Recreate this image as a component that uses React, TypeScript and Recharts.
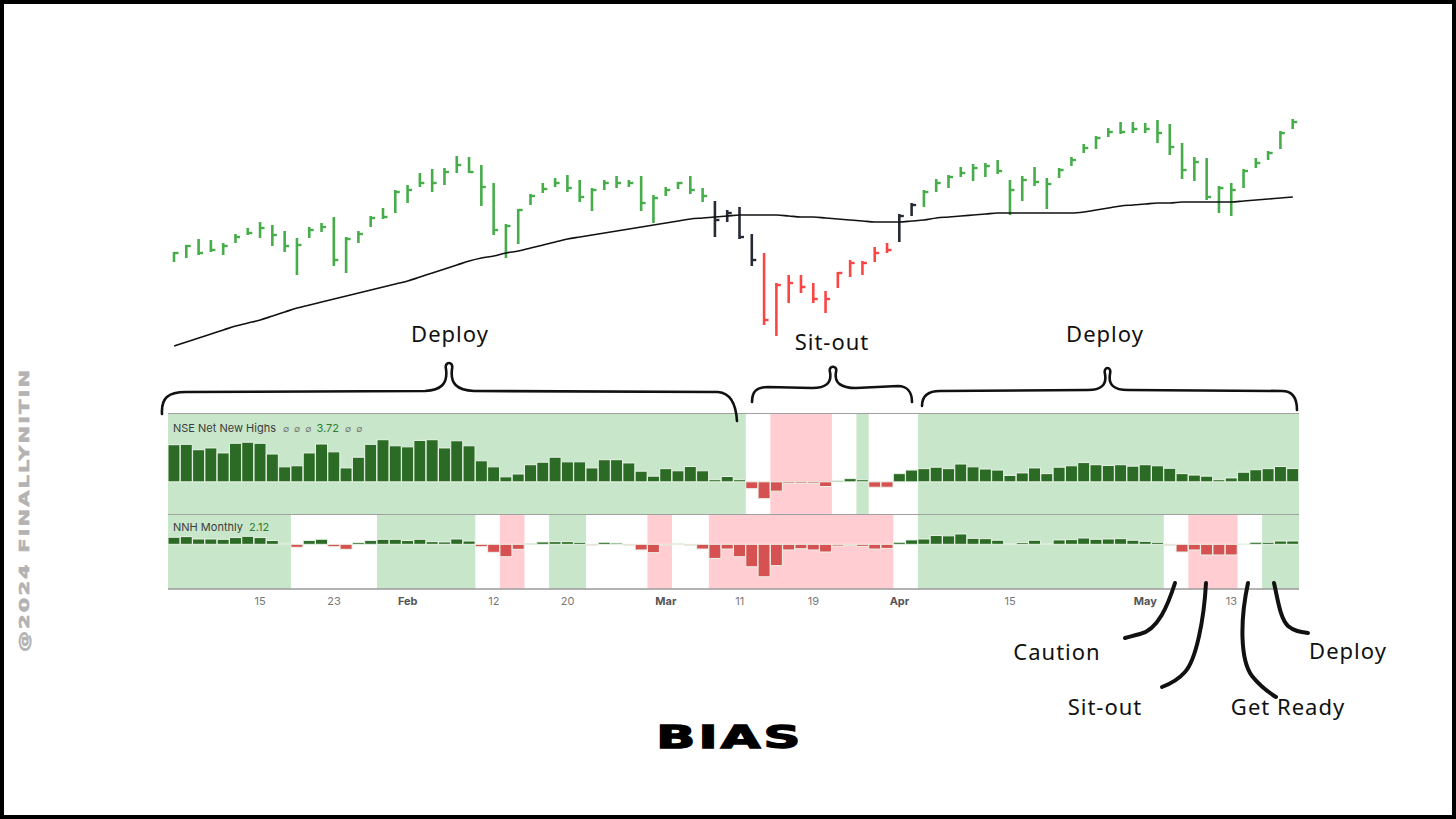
import React from "react";
import {
  Bar,
  BarChart,
  Cell,
  ComposedChart,
  Line,
  ReferenceArea,
  XAxis,
  YAxis,
} from "recharts";

// trading days (NSE, incl. Saturday special sessions)
const days = [
  "2024-01-04", "2024-01-05", "2024-01-08", "2024-01-09", "2024-01-10", "2024-01-11", "2024-01-12",
  "2024-01-15", "2024-01-16", "2024-01-17", "2024-01-18", "2024-01-19", "2024-01-20", "2024-01-23",
  "2024-01-24", "2024-01-25", "2024-01-29", "2024-01-30", "2024-01-31",
  "2024-02-01", "2024-02-02", "2024-02-05", "2024-02-06", "2024-02-07", "2024-02-08", "2024-02-09",
  "2024-02-12", "2024-02-13", "2024-02-14", "2024-02-15", "2024-02-16", "2024-02-19", "2024-02-20",
  "2024-02-21", "2024-02-22", "2024-02-23", "2024-02-26", "2024-02-27", "2024-02-28", "2024-02-29",
  "2024-03-01", "2024-03-02", "2024-03-04", "2024-03-05", "2024-03-06", "2024-03-07", "2024-03-11",
  "2024-03-12", "2024-03-13", "2024-03-14", "2024-03-15", "2024-03-18", "2024-03-19", "2024-03-20",
  "2024-03-21", "2024-03-22", "2024-03-26", "2024-03-27", "2024-03-28",
  "2024-04-01", "2024-04-02", "2024-04-03", "2024-04-04", "2024-04-05", "2024-04-08", "2024-04-09",
  "2024-04-10", "2024-04-12", "2024-04-15", "2024-04-16", "2024-04-18", "2024-04-19", "2024-04-22",
  "2024-04-23", "2024-04-24", "2024-04-25", "2024-04-26", "2024-04-29", "2024-04-30",
  "2024-05-02", "2024-05-03", "2024-05-06", "2024-05-07", "2024-05-08", "2024-05-09", "2024-05-10",
  "2024-05-13", "2024-05-14", "2024-05-15", "2024-05-16", "2024-05-17", "2024-05-18",
];

const tickDays = [
  "2024-01-15", "2024-01-23", "2024-02-01", "2024-02-12", "2024-02-20", "2024-03-01",
  "2024-03-11", "2024-03-19", "2024-04-01", "2024-04-15", "2024-05-02", "2024-05-13",
];
const tickTexts = ["15", "23", "Feb", "12", "20", "Mar", "11", "19", "Apr", "15", "May", "13"];
const monthNames = ["Feb", "Mar", "Apr", "May"];

// price bars (high / low / close), index units
const highs = [
  108, 115, 121, 120, 117, 126, 132, 138, 135, 129,
  122, 133, 137, 143, 123, 129, 144, 152, 170, 175,
  187, 191, 192, 204, 203, 195, 177, 136, 151, 166,
  177, 182, 185, 180, 172, 180, 184, 180, 184, 165,
  173, 178, 184, 172, 159, 150, 153, 126, 107, 77,
  85, 85, 77, 69, 88, 100, 99, 113, 117, 146,
  157, 170, 181, 185, 193, 196, 197, 200, 180, 184,
  193, 182, 192, 203, 216, 224, 232, 238, 238, 237,
  240, 236, 217, 203, 202, 174, 177, 191, 202, 209,
  229, 241,
];
const lows = [
  98, 102, 105, 108, 105, 117, 125, 122, 114, 108,
  85, 122, 128, 94, 87, 117, 133, 141, 147, 157,
  173, 168, 175, 187, 187, 154, 125, 102, 116, 155,
  167, 173, 168, 158, 149, 170, 172, 173, 149, 137,
  164, 171, 166, 158, 123, 138, 121, 94, 35, 24,
  57, 67, 57, 47, 72, 83, 85, 98, 107, 118,
  144, 153, 168, 172, 183, 179, 183, 186, 145, 159,
  174, 151, 182, 194, 207, 211, 223, 226, 227, 227,
  217, 205, 181, 179, 160, 147, 144, 172, 192, 200,
  211, 231,
];
const closes = [
  107, 114, 107, 110, 114, 123, 127, 132, 125, 114,
  115, 130, 133, 100, 121, 126, 142, 143, 168, 170,
  177, 177, 188, 195, 188, 173, 130, 134, 150, 164,
  171, 177, 172, 163, 170, 177, 177, 177, 157, 162,
  170, 177, 170, 164, 140, 147, 123, 100, 40, 75,
  77, 73, 61, 61, 87, 97, 97, 107, 110, 144,
  155, 168, 177, 183, 187, 192, 194, 189, 170, 180,
  178, 176, 190, 200, 212, 222, 228, 228, 231, 231,
  227, 213, 190, 198, 163, 172, 170, 189, 197, 207,
  227, 238,
];
const movingAvg = [
  14, 18, 22, 26, 30, 34, 37, 40, 44, 48,
  52, 55, 58, 61, 64, 67, 70, 73, 76, 79,
  83, 87, 91, 95, 99, 102, 104, 107, 109, 112,
  115, 118, 121, 123, 125, 127, 129, 131, 133, 135,
  137, 139, 141, 142, 143, 144, 145, 145, 145, 145,
  144, 143, 143, 142, 141, 140, 139, 138, 138, 138,
  139, 140, 142, 143, 144, 145, 146, 147, 147, 147,
  147, 147, 147, 147, 148, 150, 152, 154, 155, 156,
  157, 157, 158, 158, 158, 158, 158, 159, 160, 161,
  162, 163,
];
// g = above average, k = at average, r = below average
const regime =
  "gggggggggggggggggggggggggggggggggggggggggggg" + "kkkk" + "rrrrrrrrrrr" + "kk" + "ggggggggggggggggggggggggggggggg";

const nnh = [
  10.4, 10.5, 9.0, 9.5, 8.1, 10.8, 11.1, 10.8, 7.8, 4.2,
  4.5, 8.1, 10.6, 8.4, 3.9, 6.9, 10.5, 11.8, 10.1, 9.8,
  11.6, 11.8, 9.5, 11.5, 10.1, 5.9, 4.2, 1.4, 2.2, 4.8,
  5.5, 6.9, 5.6, 5.6, 3.9, 6.2, 6.2, 5.3, 3.0, 1.6,
  3.7, 3.1, 4.3, 3.1, 0.6, 1.5, 0.6, -1.9, -4.7, -2.6,
  -0.4, -0.4, -0.4, -1.3, 0.3, 0.9, 0.6, -1.5, -1.5, 2.3,
  3.3, 3.7, 4.1, 3.7, 5.0, 4.2, 3.6, 3.3, 1.8, 2.5,
  3.9, 2.3, 4.1, 4.5, 5.4, 4.8, 4.6, 4.8, 4.4, 4.8,
  4.5, 3.8, 2.3, 1.9, 1.6, 0.6, 1.1, 2.7, 3.4, 3.7,
  4.3, 3.72,
];
const nnhMonthly = [
  4.5, 4.9, 3.4, 3.4, 3.2, 4.3, 5.1, 4.3, 2.4, 0.6,
  -1.9, 2.4, 3.2, -1.5, -3.2, 1.1, 2.4, 3.2, 3.2, 2.4,
  3.2, 1.7, 1.5, 3.4, 2.1, -1.5, -5.1, -7.9, -3.2, 0.6,
  1.5, 1.7, 1.7, 1.3, -0.6, 1.3, 0.8, -0.6, -3.6, -5.3,
  -0.6, 0.4, -0.6, -3.0, -9.0, -3.0, -7.9, -14.3, -20.7, -13.6,
  -3.6, -2.8, -3.6, -4.9, -1.1, -0.6, -1.3, -3.0, -2.6, 1.3,
  2.8, 3.4, 5.6, 5.4, 6.6, 3.8, 3.6, 2.6, 0.4, 1.1,
  2.6, 0.4, 2.8, 3.0, 4.0, 3.2, 3.4, 3.6, 2.6, 1.9,
  1.3, -0.6, -4.9, -3.6, -6.8, -6.8, -6.8, 0.2, 1.3, 1.3,
  2.1, 2.12,
];

const nnhZones = [
  { from: "2024-01-04", to: "2024-03-11", tone: "up" },
  { from: "2024-03-14", to: "2024-03-20", tone: "down" },
  { from: "2024-03-26", to: "2024-03-26", tone: "up" },
  { from: "2024-04-03", to: "2024-05-18", tone: "up" },
];
const monthlyZones = [
  { from: "2024-01-04", to: "2024-01-17", tone: "up" },
  { from: "2024-01-30", to: "2024-02-08", tone: "up" },
  { from: "2024-02-13", to: "2024-02-14", tone: "down" },
  { from: "2024-02-19", to: "2024-02-21", tone: "up" },
  { from: "2024-02-29", to: "2024-03-01", tone: "down" },
  { from: "2024-03-06", to: "2024-03-28", tone: "down" },
  { from: "2024-04-03", to: "2024-05-03", tone: "up" },
  { from: "2024-05-08", to: "2024-05-13", tone: "down" },
  { from: "2024-05-16", to: "2024-05-18", tone: "up" },
];

const regimeColors: Record<string, string> = { g: "#46ad4a", k: "#262a35", r: "#fb4646" };
const zoneColors: Record<string, string> = { up: "#c8e6c9", down: "#ffcdd2" };
const BAR_UP = "#2c6b25";
const BAR_DOWN = "#d65252";

const data = days.map((day, i) => ({
  day,
  hl: [lows[i], highs[i]],
  high: highs[i],
  low: lows[i],
  close: closes[i],
  ma: movingAvg[i],
  regime: regime[i],
  nnh: nnh[i],
  monthly: nnhMonthly[i],
}));

const MARGIN = { top: 0, right: 157, left: 168, bottom: 0 };
const HAND = "'Noto Sans', 'DejaVu Sans', sans-serif";
const UI = "Inter, Roboto, sans-serif";

function HlcBar(props: any) {
  const { x, y, width, height, payload } = props;
  if (x == null || y == null || !payload) return <g />;
  const top = Math.min(y, y + height);
  const h = Math.abs(height);
  const cx = x + width / 2;
  const span = payload.high - payload.low;
  const yc = top + (span > 0 ? ((payload.high - payload.close) / span) * h : 0);
  const color = regimeColors[payload.regime];
  return (
    <g>
      <line x1={cx} x2={cx} y1={top} y2={top + h} stroke={color} strokeWidth={2.6} />
      <line x1={cx} x2={cx + 4.5} y1={yc} y2={yc} stroke={color} strokeWidth={2.4} />
    </g>
  );
}

function DayTick(props: any) {
  const { x, y, payload } = props;
  const k = tickDays.indexOf(payload.value);
  if (k < 0) return <g />;
  const label = tickTexts[k];
  const isMonth = monthNames.includes(label);
  return (
    <text
      x={x}
      y={y}
      dy="0.71em"
      textAnchor="middle"
      fontSize={11}
      fontFamily={UI}
      fontWeight={isMonth ? 700 : 400}
      fill={isMonth ? "#555" : "#777"}
    >
      {label}
    </text>
  );
}

const nullSym = { color: "#777", fontSize: 9, marginRight: 5 };

export default function App() {
  return (
    <div
      style={{
        position: "relative",
        width: 1456,
        height: 819,
        background: "#fff",
        overflow: "hidden",
      }}
    >
      <style>{"body{margin:0}"}</style>

      {/* price panel */}
      <div style={{ position: "absolute", left: 0, top: 100 }}>
        <ComposedChart width={1456} height={260} data={data} margin={MARGIN} barCategoryGap={0}>
          <XAxis dataKey="day" hide />
          <YAxis hide domain={[0, 260]} allowDataOverflow />
          <Bar dataKey="hl" shape={HlcBar} isAnimationActive={false} />
          <Line
            type="monotone"
            dataKey="ma"
            stroke="#111"
            strokeWidth={1.6}
            dot={false}
            isAnimationActive={false}
          />
        </ComposedChart>
      </div>

      {/* NSE Net New Highs panel */}
      <div style={{ position: "absolute", left: 168, top: 413, width: 1131, height: 1, background: "#a0a0a0" }} />
      <div style={{ position: "absolute", left: 0, top: 414 }}>
        <BarChart width={1456} height={100} data={data} margin={MARGIN} barCategoryGap={0}>
          <XAxis dataKey="day" hide />
          <YAxis hide domain={[-9, 19]} allowDataOverflow />
          {nnhZones.map((z, i) => (
            <ReferenceArea
              key={i}
              x1={z.from}
              x2={z.to}
              fill={zoneColors[z.tone]}
              fillOpacity={1}
              stroke="none"
              zIndex={-10}
            />
          ))}
          <Bar dataKey="nnh" stroke="#e9f4e8" strokeWidth={1} isAnimationActive={false}>
            {data.map((d, i) => (
              <Cell key={i} fill={d.nnh >= 0 ? BAR_UP : BAR_DOWN} />
            ))}
          </Bar>
        </BarChart>
      </div>
      <div
        style={{
          position: "absolute",
          left: 173,
          top: 421,
          fontFamily: UI,
          fontSize: 11,
          color: "#3d3d3d",
          whiteSpace: "pre",
        }}
      >
        <span style={{ marginRight: 7 }}>NSE Net New Highs</span>
        <span style={nullSym}>∅</span>
        <span style={nullSym}>∅</span>
        <span style={nullSym}>∅</span>
        <span style={{ color: "#2e7d32", marginRight: 6 }}>3.72</span>
        <span style={nullSym}>∅</span>
        <span style={nullSym}>∅</span>
      </div>

      {/* NNH Monthly panel */}
      <div style={{ position: "absolute", left: 168, top: 514, width: 1131, height: 1, background: "#a0a0a0" }} />
      <div style={{ position: "absolute", left: 0, top: 515 }}>
        <BarChart width={1456} height={100} data={data} margin={MARGIN} barCategoryGap={0}>
          <XAxis
            dataKey="day"
            interval={0}
            tickLine={false}
            axisLine={{ stroke: "#9a9a9a", strokeWidth: 1.5 }}
            tick={DayTick}
            height={26}
          />
          <YAxis hide domain={[-28.5, 18.7]} allowDataOverflow />
          {monthlyZones.map((z, i) => (
            <ReferenceArea
              key={i}
              x1={z.from}
              x2={z.to}
              fill={zoneColors[z.tone]}
              fillOpacity={1}
              stroke="none"
              zIndex={-10}
            />
          ))}
          <Bar dataKey="monthly" stroke="#e9f4e8" strokeWidth={1} isAnimationActive={false}>
            {data.map((d, i) => (
              <Cell key={i} fill={d.monthly >= 0 ? BAR_UP : BAR_DOWN} />
            ))}
          </Bar>
        </BarChart>
      </div>
      <div
        style={{
          position: "absolute",
          left: 173,
          top: 520,
          fontFamily: UI,
          fontSize: 11,
          color: "#3d3d3d",
          whiteSpace: "pre",
        }}
      >
        NNH Monthly{"  "}
        <span style={{ color: "#2e7d32" }}>2.12</span>
      </div>

      {/* hand annotations, title, watermark */}
      <svg
        width={1456}
        height={819}
        style={{ position: "absolute", left: 0, top: 0, pointerEvents: "none" }}
      >
        <g fill="none" stroke="#111" strokeWidth={2.6} strokeLinecap="round" strokeLinejoin="round">
          <path d="M 162 414 C 161 398 168 392 186 392 L 425 391 C 441 390 448 384 446 369 C 444 361 454 361 452 369 C 450 384 457 390 474 391 L 718 392 C 730 393 736 404 737 421" />
          <path d="M 752 402 C 752 391 757 387 768 387 L 812 388 C 826 388 832 383 830 372 C 828 365 838 365 836 372 C 834 383 841 388 856 388 L 898 386 C 907 386 912 392 912 402" />
          <path d="M 922 406 C 922 396 928 391 940 391 L 1088 390 C 1101 390 1107 385 1105 374 C 1103 366 1112 366 1110 374 C 1108 385 1114 390 1128 390 L 1282 391 C 1292 391 1297 398 1297 410" />
        </g>
        <g fill="none" stroke="#111" strokeWidth={4} strokeLinecap="round">
          <path d="M 1175 583 C 1168 605 1158 630 1140 634 C 1133 636 1128 637 1125 638" />
          <path d="M 1206 583 C 1204 620 1196 660 1185 672 C 1178 680 1170 684 1162 687" />
          <path d="M 1248 583 C 1240 620 1240 660 1252 676 C 1260 686 1268 692 1276 697" />
          <path d="M 1274 583 C 1278 600 1280 618 1288 626 C 1294 631 1300 632 1308 633" />
        </g>
        <g fontFamily={HAND} fontSize={22} fill="#111" textAnchor="middle" letterSpacing={1}>
          <text x={450} y={342}>Deploy</text>
          <text x={832} y={350}>Sit-out</text>
          <text x={1105} y={342}>Deploy</text>
          <text x={1057} y={660}>Caution</text>
          <text x={1105} y={715}>Sit-out</text>
          <text x={1288} y={715}>Get Ready</text>
          <text x={1348} y={659}>Deploy</text>
        </g>
        <g transform="translate(730, 748) scale(1.6, 1)">
          <text
            x={0}
            y={0}
            textAnchor="middle"
            fontFamily="'DejaVu Sans', sans-serif"
            fontWeight={700}
            fontSize={32}
            letterSpacing={2}
            fill="#000"
            stroke="#000"
            strokeWidth={1.4}
          >
            BIAS
          </text>
        </g>
        <g transform="translate(29, 510) rotate(-90) scale(1.5, 1)">
          <text
            x={0}
            y={0}
            textAnchor="middle"
            fontFamily="'DejaVu Sans', sans-serif"
            fontWeight={700}
            fontSize={14}
            letterSpacing={1.4}
            fill="#b3b3b3"
            stroke="#b3b3b3"
            strokeWidth={0.6}
          >
            @2024 FINALLYNITIN
          </text>
        </g>
      </svg>

      {/* frame */}
      <div
        style={{
          position: "absolute",
          inset: 0,
          border: "4px solid #000",
          boxSizing: "border-box",
          pointerEvents: "none",
        }}
      />
    </div>
  );
}
